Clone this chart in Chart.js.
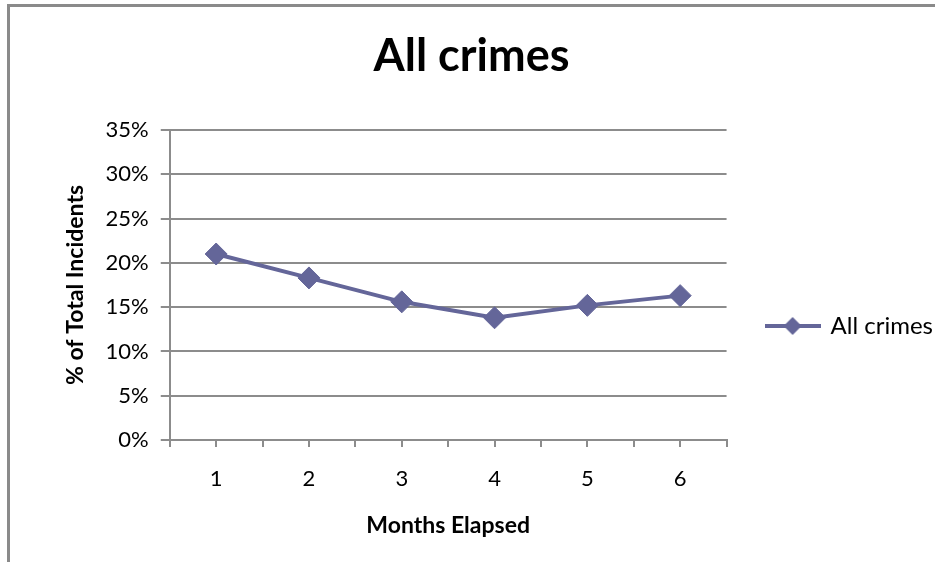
<!DOCTYPE html>
<html lang="en">
<head>
    <meta charset="UTF-8">
    <title>All crimes</title>
    <script src="https://cdn.jsdelivr.net/npm/chart.js"></script>
    <style>
        body { margin: 0; background: #fff; overflow: hidden; width: 935px; height: 562px; position: relative; }
        #frame { position: absolute; left: 7px; top: 4px; width: 1000px; height: 600px;
                 border-left: 3px solid #8a8a8a; border-top: 3px solid #8a8a8a; }
        #chart { position: absolute; left: 0; top: 0; }
    </style>
</head>
<body>
    <div id="frame"></div>
    <canvas id="chart" width="943" height="562"></canvas>

    <script>
        // months elapsed and share of incidents (%)
        const months = [1, 2, 3, 4, 5, 6];
        const allCrimes = [21.0, 18.3, 15.6, 13.8, 15.2, 16.3];
        const yTicks = [0, 5, 10, 15, 20, 25, 30, 35];

        const lineColor = '#646699';
        const gridColor = '#8c8c8c';

        // legend symbol: line with a diamond in the middle
        const icon = document.createElement('canvas');
        icon.width = 56; icon.height = 22;
        const ic = icon.getContext('2d');
        ic.strokeStyle = lineColor; ic.lineWidth = 4;
        ic.beginPath(); ic.moveTo(0, 11); ic.lineTo(56, 11); ic.stroke();
        ic.fillStyle = lineColor;
        ic.beginPath(); ic.moveTo(28, 2); ic.lineTo(37, 11); ic.lineTo(28, 20); ic.lineTo(19, 11); ic.closePath(); ic.fill();

        const ctx = document.getElementById('chart').getContext('2d');
        new Chart(ctx, {
            type: 'line',
            data: {
                datasets: [{
                    label: 'All crimes',
                    data: months.map((m, i) => ({ x: m, y: allCrimes[i] })),
                    borderColor: lineColor,
                    backgroundColor: lineColor,
                    borderWidth: 4,
                    pointStyle: 'rectRot',
                    pointRadius: 11,
                    pointHoverRadius: 11,
                    pointBorderWidth: 1,
                    tension: 0
                }]
            },
            options: {
                responsive: false,
                animation: false,
                plugins: {
                    title: {
                        display: true,
                        text: 'All crimes',
                        color: '#000',
                        font: { family: 'Lato', size: 45, weight: 'bold' },
                        padding: { top: 29, bottom: 47 }
                    },
                    legend: {
                        position: 'right',
                        // empty title only pushes the entry down to where Excel puts it
                        title: { display: true, text: '', font: { size: 10 }, padding: { top: 78, bottom: 0 } },
                        labels: {
                            color: '#000',
                            font: { family: 'Lato', size: 24 },
                            usePointStyle: true,
                            pointStyle: icon,
                            pointStyleWidth: 52,
                            padding: 40
                        }
                    },
                    tooltip: { enabled: false }
                },
                scales: {
                    x: {
                        type: 'linear',
                        min: 0.5,
                        max: 6.5,
                        ticks: {
                            stepSize: 0.5,
                            autoSkip: false,
                            color: '#000',
                            font: { family: 'Lato', size: 22 },
                            padding: 19,
                            maxRotation: 0,
                            callback: v => Number.isInteger(v) ? String(v) : ''
                        },
                        grid: { drawOnChartArea: false, color: gridColor, lineWidth: 2, tickLength: 7 },
                        border: { color: gridColor, width: 2 },
                        title: {
                            display: true,
                            text: 'Months Elapsed',
                            color: '#000',
                            font: { family: 'Lato', size: 23, weight: 'bold' },
                            padding: { top: 0, bottom: 23 }
                        }
                    },
                    y: {
                        min: 0,
                        max: 35,
                        afterBuildTicks: s => { s.ticks = yTicks.map(v => ({ value: v })); },
                        ticks: {
                            color: '#000',
                            font: { family: 'Lato', size: 22 },
                            padding: 12,
                            callback: v => v + '%'
                        },
                        grid: { color: gridColor, lineWidth: 2, tickLength: 9 },
                        border: { color: gridColor, width: 2 },
                        title: {
                            display: true,
                            text: '% of Total Incidents',
                            color: '#000',
                            font: { family: 'Lato', size: 23, weight: 'bold' },
                            padding: { top: 62, bottom: 4 }
                        }
                    }
                }
            }
        });
    </script>
</body>
</html>
